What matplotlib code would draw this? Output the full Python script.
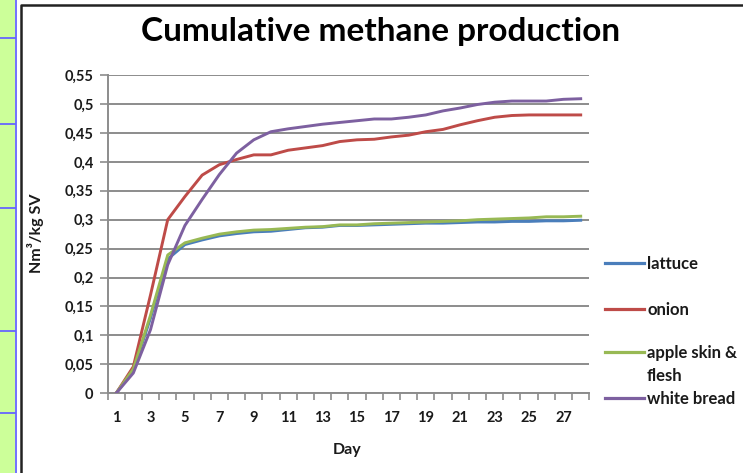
import matplotlib
matplotlib.use("Agg")
import matplotlib.pyplot as plt
from matplotlib.lines import Line2D
from matplotlib.patches import Rectangle
from matplotlib.ticker import FixedLocator, FuncFormatter

# ---- data ----
days = list(range(1, 29))
lattuce = [0, 0.040, 0.130, 0.232, 0.257, 0.265, 0.272, 0.276, 0.279, 0.280,
           0.283, 0.286, 0.287, 0.290, 0.290, 0.291, 0.292, 0.293, 0.294, 0.294,
           0.295, 0.296, 0.296, 0.297, 0.297, 0.298, 0.298, 0.299]
onion = [0, 0.046, 0.170, 0.300, 0.340, 0.377, 0.395, 0.404, 0.412, 0.412,
         0.420, 0.424, 0.428, 0.435, 0.438, 0.439, 0.443, 0.446, 0.452, 0.456,
         0.464, 0.471, 0.477, 0.480, 0.481, 0.481, 0.481, 0.481]
apple = [0, 0.042, 0.135, 0.239, 0.260, 0.268, 0.275, 0.279, 0.282, 0.283,
         0.285, 0.287, 0.288, 0.291, 0.291, 0.293, 0.294, 0.295, 0.296, 0.297,
         0.298, 0.300, 0.301, 0.302, 0.303, 0.305, 0.305, 0.306]
white_bread = [0, 0.035, 0.110, 0.222, 0.290, 0.335, 0.378, 0.415, 0.438, 0.452,
               0.457, 0.461, 0.465, 0.468, 0.471, 0.474, 0.474, 0.477, 0.481, 0.488,
               0.493, 0.499, 0.503, 0.505, 0.505, 0.505, 0.508, 0.509]

series = [("lattuce", lattuce, "#4A7EBB"),
          ("onion", onion, "#BE4B48"),
          ("apple skin &\nflesh", apple, "#98B954"),
          ("white bread", white_bread, "#7D60A0")]

y_ticks = [i * 0.05 for i in range(12)]
x_labels = list(range(1, 28, 2))

W, H = 743, 473
FONT = ["Lato", "DejaVu Sans"]
TXT = "#1a1a1a"
GRID = "#8c8c8c"
SMALL = 10.5

fig = plt.figure(figsize=(W / 100, H / 100), dpi=100)
fig.patch.set_facecolor("white")


def px(x, y):
    return x / W, 1 - y / H


# spreadsheet strip on the left
fig.add_artist(Rectangle((0, 0), 15 / W, 1, transform=fig.transFigure,
                         facecolor="#CCFF99", edgecolor="none"))
fig.add_artist(Line2D([15.5 / W, 15.5 / W], [0, 1], transform=fig.transFigure,
                      color="#6666FF", lw=1.3))
for yy in [38, 124, 208, 331, 413]:
    fig.add_artist(Line2D([0, 15 / W], [1 - yy / H, 1 - yy / H],
                          transform=fig.transFigure, color="#6666FF", lw=1.3))

# chart frame
fig.add_artist(Line2D([21 / W, 21 / W, 1], [0, 1 - 5.5 / H, 1 - 5.5 / H],
                      transform=fig.transFigure, color="#222222", lw=1.8))

left, right, top, bottom = 107.5, 589.3, 75.0, 393.3
ax = fig.add_axes([left / W, 1 - bottom / H, (right - left) / W, (bottom - top) / H])

for name, vals, col in series:
    ax.plot(days, vals, color=col, lw=2.1, solid_joinstyle="round", zorder=3)

ax.set_xlim(0.5, 28.5)
ax.set_ylim(0, 0.55)

ax.yaxis.set_major_locator(FixedLocator(y_ticks))
ax.yaxis.set_major_formatter(FuncFormatter(
    lambda v, p: "0" if abs(v) < 1e-9 else ("%.2f" % v).rstrip("0").replace(".", ",")))
ax.grid(axis="y", color=GRID, lw=1.4, zorder=1)
ax.set_axisbelow(True)

# category boundaries get tick marks, odd days get labels
ax.xaxis.set_major_locator(FixedLocator([d + 0.5 for d in range(0, 29)]))
ax.xaxis.set_major_formatter(FuncFormatter(lambda v, p: ""))
ax.xaxis.set_minor_locator(FixedLocator(x_labels))
ax.xaxis.set_minor_formatter(FuncFormatter(lambda v, p: "%d" % round(v)))
ax.tick_params(axis="x", which="major", length=5, width=1.2, color=GRID, direction="out")
ax.tick_params(axis="x", which="minor", length=0, pad=13)
ax.tick_params(axis="y", length=6, width=1.2, color=GRID, direction="out", pad=4)

for lab in ax.get_yticklabels() + ax.xaxis.get_minorticklabels():
    lab.set_fontfamily(FONT)
    lab.set_fontsize(SMALL)
    lab.set_fontweight("bold")
    lab.set_color(TXT)

for s in ["top", "right"]:
    ax.spines[s].set_visible(False)
for s in ["left", "bottom"]:
    ax.spines[s].set_color(GRID)
    ax.spines[s].set_linewidth(1.4)

# titles
fig.text(*px(380.5, 32), "Cumulative methane production", ha="center", va="center",
         fontfamily=FONT, fontweight="bold", fontsize=24, color="black")
fig.text(*px(35, 233), "Nm³/kg SV", ha="center", va="center", rotation=90,
         fontfamily=FONT, fontweight="bold", fontsize=11.5, color=TXT)
fig.text(*px(347, 450), "Day", ha="center", va="center",
         fontfamily=FONT, fontweight="bold", fontsize=11.5, color=TXT)

# legend (multi-line names are stacked one line below another)
legend_rows = [263, 309, 352, 398]
for (name, vals, col), yy in zip(series, legend_rows):
    fig.add_artist(Line2D([605 / W, 644 / W], [1 - yy / H] * 2,
                          transform=fig.transFigure, color=col, lw=2.3))
    for k, line in enumerate(name.split("\n")):
        fig.text(647 / W, 1 - (yy + 1 + 23 * k) / H, line, ha="left", va="center",
                 fontfamily=FONT, fontweight="bold", fontsize=12, color=TXT)

fig.savefig("out.png", dpi=100, facecolor="white")
